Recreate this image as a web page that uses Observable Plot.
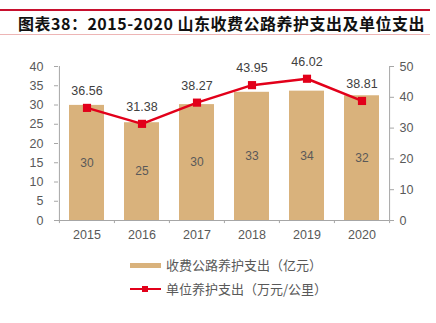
<!DOCTYPE html>
<html>
<head>
<meta charset="utf-8">
<script src="https://cdn.jsdelivr.net/npm/d3@7"></script>
<script src="https://cdn.jsdelivr.net/npm/@observablehq/plot@0.6"></script>
<style>
  html, body { margin: 0; padding: 0; background: #fff; }
  #wrap { position: relative; width: 436px; height: 323px; overflow: hidden; font-family: "Liberation Sans", Arial, sans-serif; }
  #title { position: absolute; left: 0; top: 9px; width: 430px; height: 23px; border-top: 2px solid #C8102E; border-bottom: 1px solid #EDB5B5; }
  #title span { position: absolute; left: 18px; top: 2px; font-family: "Noto Sans CJK SC", sans-serif; font-weight: 700; font-size: 16px; letter-spacing: 0.5px; color: #111; white-space: nowrap; line-height: 20px; }
  #chart { position: absolute; left: 0; top: 36px; }
  .leg { position: absolute; left: 130px; font-family: "Noto Sans CJK SC", sans-serif; font-size: 13px; color: #595959; white-space: nowrap; line-height: 16px; }
  .leg .sw { position: absolute; left: 0; }
  .leg .tx { position: absolute; left: 36px; top: 0; }
</style>
</head>
<body>
<div id="wrap">
  <div id="title"><span>图表38：2015-2020 山东收费公路养护支出及单位支出</span></div>
  <div id="chart"></div>
  <div class="leg" style="top:257px; width:300px; height:16px;">
    <div class="sw" style="top:6px; width:31px; height:5px; background:#D9B27C;"></div>
    <div class="tx">收费公路养护支出（亿元）</div>
  </div>
  <div class="leg" style="top:281px; width:300px; height:16px;">
    <div class="sw" style="top:7px; width:31px; height:2px; background:#E2001A;"></div>
    <div class="sw" style="top:5px; left:12px; width:6px; height:6px; background:#E2001A;"></div>
    <div class="tx">单位养护支出（万元/公里）</div>
  </div>
</div>
<script>
const years = ["2015", "2016", "2017", "2018", "2019", "2020"];
const spending = [29.9, 25.4, 30.1, 33.3, 33.6, 32.4];       // 亿元, left axis
const unitSpending = [36.56, 31.38, 38.27, 43.95, 46.02, 38.81]; // 万元/公里, right axis
const leftTicks = [0, 5, 10, 15, 20, 25, 30, 35, 40];
const rightTicks = [0, 10, 20, 30, 40, 50];

const ratio = 40 / 50; // right axis max 50 maps onto left axis max 40
const barData = years.map((y, i) => ({year: y, v: spending[i]}));
const lineData = years.map((y, i) => ({year: y, v: unitSpending[i], vs: unitSpending[i] * ratio}));

const W = 436, H = 208, ML = 58, MR = 47, MT = 30, MB = 24;
const bw = (W - ML - MR) / years.length;
const gray = "#595959", axisGray = "#A6A6A6";
const red = "#E2001A", tan = "#D9B27C";

const chart = Plot.plot({
  width: W, height: H,
  marginLeft: ML, marginRight: MR, marginTop: MT, marginBottom: MB,
  style: {fontFamily: "'Liberation Sans', Arial, sans-serif", fontSize: "12px", color: gray, background: "transparent"},
  x: {type: "band", domain: years, padding: 0},
  y: {domain: [0, 40]},
  marks: [
    Plot.barY(barData, {x: "year", y: "v", fill: tan, insetLeft: 10, insetRight: 10}),
    Plot.text(barData, {x: "year", y: d => d.v / 2, text: d => String(Math.round(d.v)), fill: gray, fontSize: 12}),
    Plot.ruleY([0], {stroke: axisGray, strokeWidth: 1}),
    Plot.ruleX(years, {x: d => d, y1: 0, y2: -0.8, dx: -bw / 2, stroke: axisGray}),
    Plot.ruleX([years[years.length - 1]], {x: d => d, y1: 0, y2: -0.8, dx: bw / 2, stroke: axisGray}),
    Plot.ruleX([years[0]], {x: d => d, y1: 0, y2: 40, dx: -bw / 2, stroke: axisGray}),
    Plot.ruleX([years[years.length - 1]], {x: d => d, y1: 0, y2: 40, dx: bw / 2, stroke: axisGray}),
    Plot.axisY(leftTicks, {anchor: "left", tickSize: 4, tickPadding: 11, stroke: axisGray, fill: gray, fontSize: 12.5, label: null}),
    Plot.axisY(rightTicks.map(v => v * ratio), {anchor: "right", tickSize: 4, tickPadding: 6, tickFormat: d => String(Math.round(d / ratio)), stroke: axisGray, fill: gray, fontSize: 12.5, label: null}),
    Plot.axisX({tickSize: 0, tickPadding: 10, fill: gray, fontSize: 12.5, label: null}),
    Plot.line(lineData, {x: "year", y: "vs", stroke: red, strokeWidth: 2.5}),
    Plot.dot(lineData, {x: "year", y: "vs", symbol: "square", r: 4.6, fill: red, stroke: "none"}),
    Plot.text(lineData, {x: "year", y: "vs", text: d => d.v.toFixed(2), dy: -17, fill: "#404040", fontSize: 12.5})
  ]
});
document.getElementById("chart").appendChild(chart);
</script>
</body>
</html>
